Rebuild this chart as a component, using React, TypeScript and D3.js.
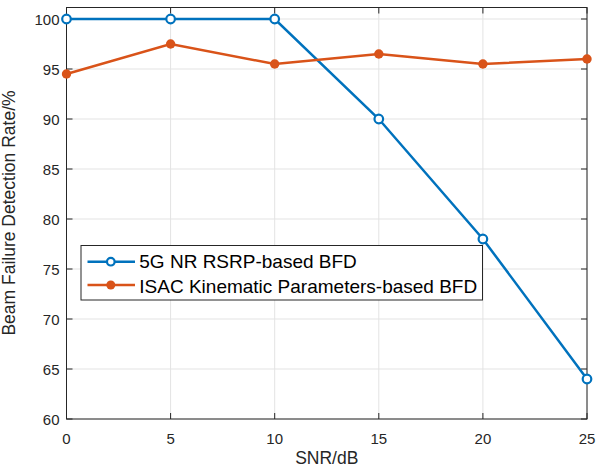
import React from "react";
import * as d3 from "d3";

const snr = [0, 5, 10, 15, 20, 25];
const rsrpBFD = [100, 100, 100, 90, 78, 64];
const isacBFD = [94.5, 97.5, 95.5, 96.5, 95.5, 96];
const xTicks = [0, 5, 10, 15, 20, 25];
const yTicks = [60, 65, 70, 75, 80, 85, 90, 95, 100];
const seriesNames = ["5G NR RSRP-based BFD", "ISAC Kinematic Parameters-based BFD"];

const W = 597, H = 468;
const L = 66.5, R = 587, T = 7.5, B = 419;
const BLUE = "#0072BD", ORANGE = "#D95319";
const FONT = "'Liberation Sans', Arial, Helvetica, sans-serif";

export default function App() {
  const x = d3.scaleLinear().domain([0, 25]).range([L, R]);
  const y = d3.scaleLinear().domain([60, 101.15]).range([B, T]);
  const line = d3.line<number>().x((_, i) => x(snr[i])).y((d) => y(d));
  const tl = 6;
  return (
    <svg width={W} height={H} style={{ position: "absolute", left: 0, top: 0, background: "#fff" }} fontFamily={FONT}>
      <rect x={0} y={0} width={W} height={H} fill="#fff" />
      {/* grid */}
      {xTicks.map((t) => (
        <line key={"gx" + t} x1={x(t)} x2={x(t)} y1={T} y2={B} stroke="#e3e3e3" strokeWidth={1} />
      ))}
      {yTicks.map((t) => (
        <line key={"gy" + t} x1={L} x2={R} y1={y(t)} y2={y(t)} stroke="#e3e3e3" strokeWidth={1} />
      ))}
      {/* ticks */}
      {xTicks.map((t) => (
        <g key={"tx" + t}>
          <line x1={x(t)} x2={x(t)} y1={B} y2={B - tl} stroke="#262626" />
          <line x1={x(t)} x2={x(t)} y1={T} y2={T + tl} stroke="#262626" />
          <text x={x(t)} y={B + 25} textAnchor="middle" fontSize={15} fill="#262626">{t}</text>
        </g>
      ))}
      {yTicks.map((t) => (
        <g key={"ty" + t}>
          <line x1={L} x2={L + tl} y1={y(t)} y2={y(t)} stroke="#262626" />
          <line x1={R} x2={R - tl} y1={y(t)} y2={y(t)} stroke="#262626" />
          <text x={L - 7} y={y(t) + 5.5} textAnchor="end" fontSize={15} fill="#262626">{t}</text>
        </g>
      ))}
      <rect x={L} y={T} width={R - L} height={B - T} fill="none" stroke="#262626" strokeWidth={1} />
      {/* lines */}
      <path d={line(rsrpBFD) || ""} fill="none" stroke={BLUE} strokeWidth={2.5} />
      <path d={line(isacBFD) || ""} fill="none" stroke={ORANGE} strokeWidth={2.5} />
      {rsrpBFD.map((v, i) => (
        <circle key={"b" + i} cx={x(snr[i])} cy={y(v)} r={4.3} fill="#fff" stroke={BLUE} strokeWidth={2.2} />
      ))}
      {isacBFD.map((v, i) => (
        <circle key={"o" + i} cx={x(snr[i])} cy={y(v)} r={4.7} fill={ORANGE} stroke="none" />
      ))}
      {/* axis labels */}
      <text x={(L + R) / 2} y={464} textAnchor="middle" fontSize={17.5} fill="#262626">SNR/dB</text>
      <text transform={`translate(15,213) rotate(-90)`} textAnchor="middle" fontSize={17.5} fill="#262626">
        Beam Failure Detection Rate/%
      </text>
      {/* legend */}
      <g>
        <rect x={81} y={245.5} width={401.5} height={54.5} fill="#fff" stroke="#262626" strokeWidth={1} />
        <line x1={87.5} x2={135} y1={261.7} y2={261.7} stroke={BLUE} strokeWidth={2.5} />
        <circle cx={110.8} cy={261.7} r={3.8} fill="#fff" stroke={BLUE} strokeWidth={2.2} />
        <text x={139.3} y={268.3} fontSize={19} fill="#000">{seriesNames[0]}</text>
        <line x1={87.5} x2={135} y1={285} y2={285} stroke={ORANGE} strokeWidth={2.5} />
        <circle cx={110.8} cy={285} r={4.5} fill={ORANGE} />
        <text x={139.3} y={292.5} fontSize={19} fill="#000">{seriesNames[1]}</text>
      </g>
    </svg>
  );
}
